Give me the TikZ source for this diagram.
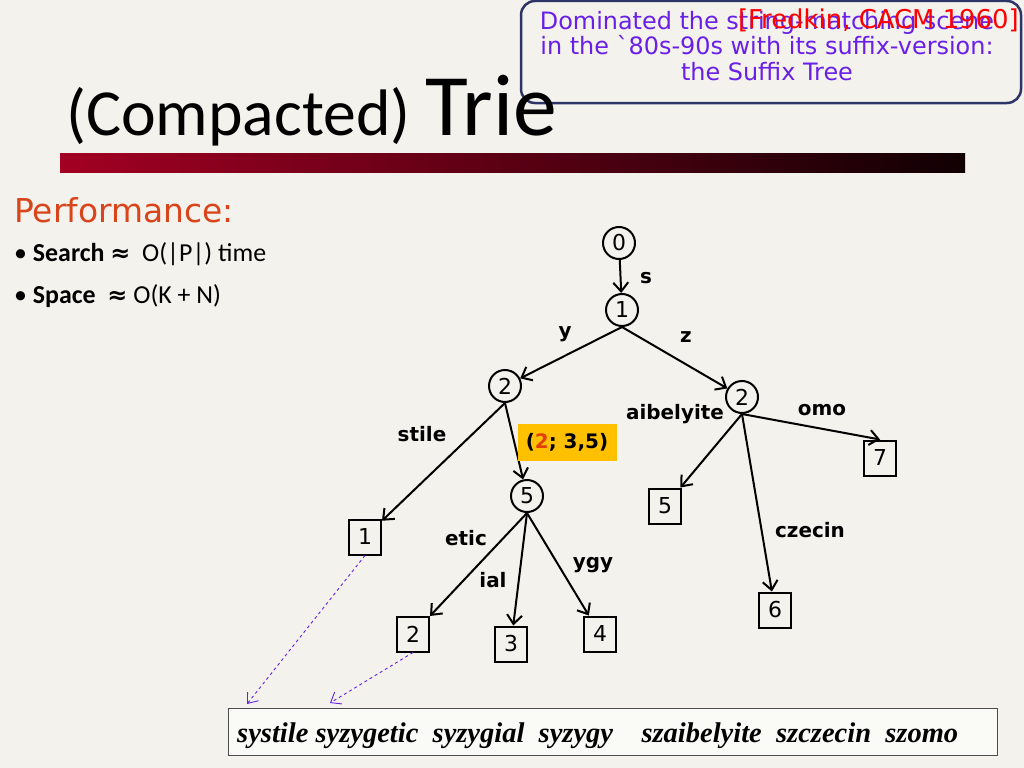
\documentclass[tikz,border=0pt]{standalone}
\usepackage{fontspec}
\setmainfont{Carlito}
\newfontfamily\comic{DejaVu Sans}
\newfontfamily\timesfont{Liberation Serif}
\usetikzlibrary{arrows.meta, positioning}

\definecolor{slidebg}{HTML}{F3F2EC}
\definecolor{barred}{HTML}{A30023}
\definecolor{bardark}{HTML}{100003}
\definecolor{perfred}{HTML}{D9441A}
\definecolor{notepurple}{HTML}{6A1FE8}
\definecolor{noteframe}{HTML}{2E3566}
\definecolor{labelgold}{HTML}{FFC000}
\definecolor{offsetred}{HTML}{E0400A}

\tikzset{
	inner/.style={circle, draw, line width=2bp, minimum size=32bp, inner sep=0pt, font=\comic\fontsize{22}{22}\selectfont},
	leaf/.style={rectangle, draw, line width=2bp, minimum width=32bp, minimum height=35bp, inner sep=0pt, font=\comic\fontsize{22}{22}\selectfont},
	edge/.style={line width=2bp, -{Straight Barb[length=9bp, width=15bp, line width=2bp]}},
	lbl/.style={inner sep=0pt, font=\comic\bfseries\fontsize{20}{20}\selectfont},
	back/.style={dashed, notepurple, line width=0.9bp, -{Straight Barb[length=9bp, width=14bp, line width=0.9bp]}}
}

\begin{document}
\begin{tikzpicture}[x=1bp, y=-1bp]
	%slide
	\fill[slidebg] (0,0) rectangle (1024,768);
	\useasboundingbox (0,0) rectangle (1024,768);
	%note
	\draw[noteframe, line width=2.5bp, fill=slidebg, rounded corners=14bp] (521,1) rectangle (1021,103);
	\node[notepurple, align=center, inner sep=0pt, font=\comic\fontsize{24}{26}\selectfont] (note) at (767,46)
		{Dominated the string-matching scene\\in the `80s-90s with its suffix-version:\\the Suffix Tree};
	\node[red, anchor=east, inner sep=0pt, font=\comic\fontsize{26}{26}\selectfont] (cite) at (1019,20) {[Fredkin, CACM 1960]};
	%title
	\node[anchor=base west, inner sep=0pt] (title) at (66,135)
		{\fontsize{66}{66}\selectfont(Compacted) \fontsize{88}{88}\selectfont Trie};
	\shade[left color=barred, right color=bardark] (60,153) rectangle (965,172);
	%performance
	\node[perfred, anchor=base west, inner sep=0pt, font=\comic\fontsize{33}{33}\selectfont] (perf) at (14,222) {Performance:};
	\node[anchor=base west, inner sep=0pt, font=\fontsize{26}{26}\selectfont] (search) at (14,261)
		{\textbullet\ \textbf{Search} {\comic\bfseries\fontsize{24}{24}\selectfont ≈}\ \ O(|P|) time};
	\node[anchor=base west, inner sep=0pt, font=\fontsize{26}{26}\selectfont] (space) at (14,303)
		{\textbullet\ \textbf{Space}\ \ {\comic\bfseries\fontsize{24}{24}\selectfont ≈} O(K + N)};
	%trie nodes
	\node[inner] (n0) at (619,243) {0};
	\node[inner] (n1) at (622,310) {1};
	\node[inner] (y2) at (505,386) {2};
	\node[inner] (z2) at (742,397) {2};
	\node[inner] (y5) at (527,496) {5};
	\node[leaf] (l1) at (365,537) {1};
	\node[leaf] (l2) at (413,634) {2};
	\node[leaf] (l3) at (511,644) {3};
	\node[leaf] (l4) at (600,634) {4};
	\node[leaf] (l5) at (665,506) {5};
	\node[leaf] (l6) at (775,610) {6};
	\node[leaf] (l7) at (880,458) {7};
	%edges
	\draw[edge] (n0) -- (n1);
	\draw[edge] (n1.south) -- (y2);
	\draw[edge] (n1.south) -- (z2);
	\draw[edge] (y2.south) -- (l1);
	\draw[edge] (y2.south) -- (y5);
	\draw[edge] (z2.south) -- (l5);
	\draw[edge] (z2.south) -- (l6);
	\draw[edge] (z2.south) -- (l7.north);
	\draw[edge] (y5.south) -- (l2);
	\draw[edge] (y5.south) -- (l3);
	\draw[edge] (y5.south) -- (l4);
	%edge labels
	\node[lbl] (ls) at (646,278) {s};
	\node[lbl] (ly) at (565,334) {y};
	\node[lbl] (lz) at (686,337) {z};
	\node[lbl] (lstile) at (422,434) {stile};
	\node[lbl] (laib) at (675,414) {aibelyite};
	\node[lbl] (lomo) at (822,410) {omo};
	\node[lbl] (letic) at (466,538) {etic};
	\node[lbl] (lial) at (493,580) {ial};
	\node[lbl] (lygy) at (593,565) {ygy};
	\node[lbl] (lcz) at (810,530) {czecin};
	\node[lbl, fill=labelgold, minimum width=99bp, minimum height=37bp] (triple) at (567,442)
		{(\textcolor{offsetred}{2}; 3,5)};
	%strings
	\draw[black!70, fill=white!60!slidebg, line width=1bp] (228,708) rectangle (997,755);
	\node[anchor=base west, inner sep=0pt, font=\timesfont\bfseries\itshape\fontsize{28.6}{28.6}\selectfont] (words) at (237,742)
		{systile syzygetic\ \ syzygial\ \ syzygy\ \ \ \ szaibelyite\ \ szczecin\ \ szomo};
	\coordinate (w1) at (247,704);
	\coordinate (w2) at (330,703);
	\draw[back] (l1.south) -- (w1);
	\draw[back] (l2.south) -- (w2);
\end{tikzpicture}
\end{document}
